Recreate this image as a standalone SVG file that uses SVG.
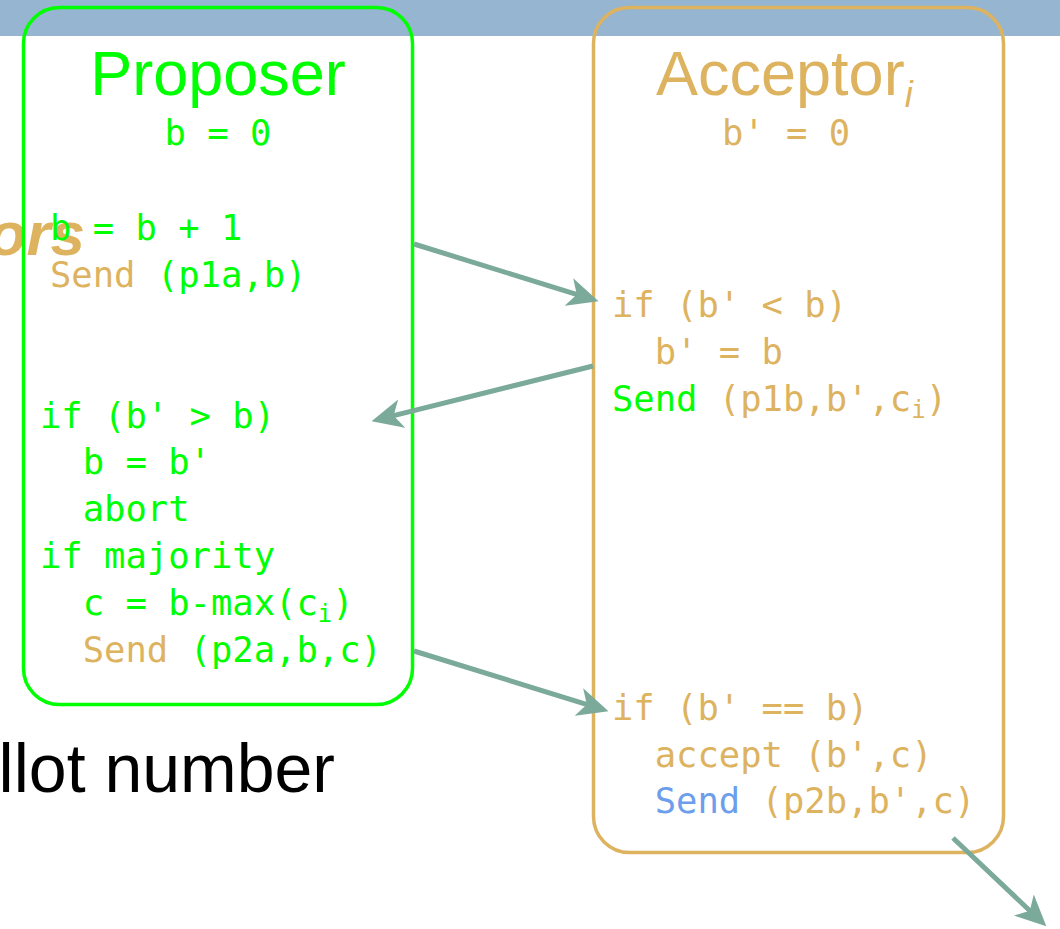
<svg xmlns="http://www.w3.org/2000/svg" width="1060" height="929" viewBox="0 0 1060 929">
  <style>
    .code { font-family: "DejaVu Sans Mono", "Liberation Mono", monospace; font-size: 35.5px; white-space: pre; }
    .title { font-family: "Liberation Sans", Arial, sans-serif; font-size: 63px; }
    .g { fill: #00FF00; }
    .t { fill: #DDB35F; }
    .bl { fill: #6D9EEB; }
    .box { fill: none; stroke-width: 3.5; }
    .conn { fill: none; stroke: #7BA99A; stroke-width: 5; marker-end: url(#head); }
  </style>
  <defs>
    <marker id="head" viewBox="0 0 30 28" refX="15" refY="14" markerWidth="31" markerHeight="30" markerUnits="userSpaceOnUse" orient="auto">
      <path d="M0,0 L30,14 L0,28 L8,14 z" fill="#7BA99A"/>
    </marker>
  </defs>

  <!-- background slide pieces -->
  <rect x="0" y="0" width="1060" height="36" fill="#95B5D1"/>
  <text x="85" y="255" text-anchor="end" font-family="'Liberation Sans', Arial, sans-serif" font-size="62" font-weight="bold" font-style="italic" fill="#DDB35F">ors</text>
  <text x="335" y="792" text-anchor="end" font-family="'Liberation Sans', Arial, sans-serif" font-size="68" fill="#000000">llot number</text>

  <!-- proposer -->
  <g id="proposer">
    <rect class="box" x="23.5" y="7.5" width="389" height="697" rx="36" ry="36" fill="none" stroke="#00FF00"/>
    <text class="title g" x="218" y="95" text-anchor="middle">Proposer</text>
    <text class="code g" x="218" y="145" text-anchor="middle">b = 0</text>
    <text class="code g" x="50" y="240">b = b + 1</text>
    <text class="code" x="50" y="287"><tspan class="t">Send </tspan><tspan class="g">(p1a,b)</tspan></text>
    <text class="code g" x="40" y="428">if (b' &gt; b)</text>
    <text class="code g" x="40" y="474">  b = b'</text>
    <text class="code g" x="40" y="521">  abort</text>
    <text class="code g" x="40" y="568">if majority</text>
    <text class="code g" x="40" y="615">  c = b-max(c<tspan font-size="24" dy="7">i</tspan><tspan dy="-7">)</tspan></text>
    <text class="code" x="40" y="662"><tspan class="t">  Send </tspan><tspan class="g">(p2a,b,c)</tspan></text>
  </g>

  <!-- acceptor -->
  <g id="acceptor">
    <rect class="box" x="593.5" y="7.5" width="410" height="845" rx="36" ry="36" fill="none" stroke="#DDB35F"/>
    <text class="title t" x="656" y="95">Acceptor<tspan font-size="36" font-style="italic" dy="12">i</tspan></text>
    <text class="code t" x="722" y="145">b' = 0</text>
    <text class="code t" x="612" y="317">if (b' &lt; b)</text>
    <text class="code t" x="612" y="364">  b' = b</text>
    <text class="code" x="612" y="411"><tspan class="g">Send</tspan><tspan class="t"> (p1b,b',c<tspan font-size="24" dy="7">i</tspan><tspan dy="-7">)</tspan></tspan></text>
    <text class="code t" x="612" y="720">if (b' == b)</text>
    <text class="code t" x="612" y="767">  accept (b',c)</text>
    <text class="code" x="612" y="813"><tspan class="t">  </tspan><tspan class="bl">Send</tspan><tspan class="t"> (p2b,b',c)</tspan></text>
  </g>

  <!-- messages -->
  <g id="connectors">
    <line class="conn" x1="414" y1="244" x2="583.7" y2="296.6"/>
    <line class="conn" x1="593" y1="366" x2="386.6" y2="417.4"/>
    <line class="conn" x1="414" y1="651" x2="593.7" y2="706.6"/>
    <line class="conn" x1="953" y1="838" x2="1035.1" y2="915.7"/>
  </g>
</svg>
